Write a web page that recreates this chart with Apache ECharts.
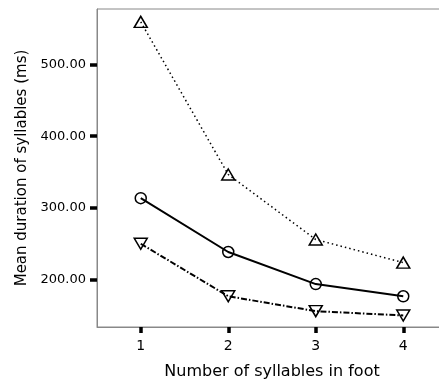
<!DOCTYPE html>
<html lang="en">
<head>
    <meta charset="UTF-8">
    <title>syllable duration</title>
    <script src="https://cdn.jsdelivr.net/npm/echarts@6/dist/echarts.min.js"></script>
    <style>
        * { margin: 0; padding: 0; }
        body { background-color: #fff; overflow: hidden; }
        /* plot box runs past the right edge of the window, as in the original */
        #main { width: 448px; height: 385px; }
    </style>
</head>
<body>
<div id="main"></div>
<script type="text/javascript">
    // data
    var categories = ['1', '2', '3', '4'];
    var upTriangle = [559.5, 346.5, 255.7, 223.5];
    var circles = [313.4, 238.3, 193.5, 176.5];
    var downTriangle = [249.8, 176.5, 155.7, 149.7];
    var yTicks = [200, 300, 400, 500];

    var font = 'DejaVu Sans';
    var myChart = echarts.init(document.getElementById('main'));

    function lineSeries(data, symbol, rotate, size, dash, width) {
        return {
            type: 'line',
            data: data,
            symbol: symbol,
            symbolSize: size,
            symbolRotate: rotate,
            showAllSymbol: true,
            lineStyle: { color: '#000', width: width, type: dash },
            itemStyle: { color: 'rgba(0,0,0,0)', borderColor: '#000', borderWidth: 1.5 },
            z: 3
        };
    }

    var option = {
        backgroundColor: '#fff',
        animation: false,
        grid: {
            left: 97,
            right: 1,
            top: 9,
            bottom: 55,
            show: true,
            borderColor: '#888',
            borderWidth: 1
        },
        xAxis: {
            type: 'category',
            data: categories,
            boundaryGap: true,
            name: 'Number of syllables in foot',
            nameLocation: 'middle',
            nameGap: 37,
            nameTextStyle: { fontFamily: font, fontSize: 16, color: '#000' },
            axisLine: { show: true, lineStyle: { color: '#888', width: 1 } },
            axisTick: { show: true, alignWithLabel: true, length: 6, lineStyle: { color: '#000', width: 3.5 } },
            axisLabel: { fontFamily: font, fontSize: 14, color: '#000', margin: 12 },
            splitLine: { show: false }
        },
        yAxis: {
            type: 'value',
            min: 133.6,
            max: 577.5,
            name: 'Mean duration of syllables (ms)',
            nameLocation: 'middle',
            nameGap: 53,
            nameTextStyle: { fontFamily: font, fontSize: 15, color: '#000' },
            axisLine: { show: true, lineStyle: { color: '#888', width: 1 } },
            axisTick: { show: true, length: 7, customValues: yTicks, lineStyle: { color: '#000', width: 3.5 } },
            axisLabel: {
                fontFamily: font, fontSize: 13, color: '#000', margin: 11,
                customValues: yTicks,
                formatter: function (v) { return v.toFixed(2); }
            },
            splitLine: { show: false }
        },
        series: [
            lineSeries(upTriangle, 'triangle', 0, [13, 11], [1.5, 3], 1.5),
            lineSeries(circles, 'circle', 0, 11, 'solid', 2),
            lineSeries(downTriangle, 'triangle', 180, [13, 11], [6, 2, 1.5, 2], 2)
        ]
    };
    myChart.setOption(option);
</script>
</body>
</html>
